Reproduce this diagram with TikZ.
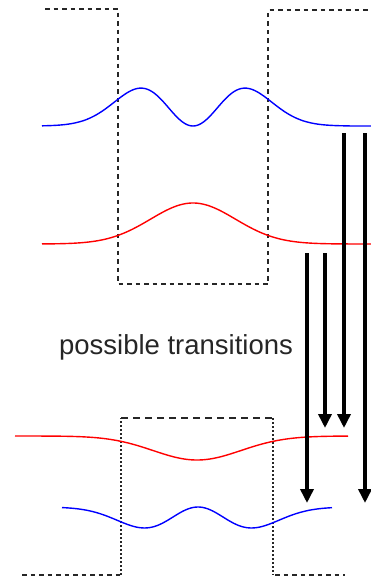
\documentclass[tikz,border=0pt]{standalone}
\usepackage{fontspec}
\newfontfamily\labelfont{Liberation Sans}
\usetikzlibrary{arrows.meta}

\begin{document}
\begin{tikzpicture}[x=1pt, y=-1pt, line join=round,
  well/.style={black!85, line width=1.1pt, dash pattern=on 4.5pt off 4pt},
  wall/.style={black!85, line width=1.1pt, dash pattern=on 2pt off 2pt},
  psi/.style={line width=1.4pt, smooth},
  jump/.style={line width=4pt, -{Triangle[length=14pt,width=13pt]}}]
\useasboundingbox (0,0) rectangle (371,581);
\draw[well] (45,9) -- (118,9) -- (118,284) -- (268,284) -- (268,10) -- (371,10);
\draw[psi, blue] plot[domain=42:371, samples=160]
  (\x, {126 - 103*((\x-193)/52)^2*exp(-((\x-193)/52)^2)});
\draw[psi, red] plot[domain=42:371, samples=160]
  (\x, {244 - 41*exp(-((\x-193)/60)^2)});
\draw[well] (22,575) -- (121,575);
\draw[wall] (121,575) -- (121,418);
\draw[well, dash pattern=on 7pt off 5pt] (121,418) -- (273,418);
\draw[wall] (273,418) -- (273,575);
\draw[well] (275,575) -- (345,575);
\draw[psi, red] plot[domain=15:348, samples=160]
  (\x, {436 + 24*exp(-((\x-197)/62)^2)});
\draw[psi, blue] plot[domain=62:332, samples=160]
  (\x, {507 + 57*((\x-198)/53.5)^2*exp(-((\x-198)/53.5)^2)});
\node[font=\labelfont\fontsize{27.5}{32}\selectfont, text=black!85] (lbl) at (176,347) {possible transitions};
\coordinate (a1) at (307,253); \coordinate (b1) at (307,503);
\coordinate (a2) at (325,253); \coordinate (b2) at (325,428);
\coordinate (a3) at (344,133); \coordinate (b3) at (344,428);
\coordinate (a4) at (365,133); \coordinate (b4) at (365,503);
\draw[jump] (a1) -- (b1);
\draw[jump] (a2) -- (b2);
\draw[jump] (a3) -- (b3);
\draw[jump] (a4) -- (b4);
\end{tikzpicture}
\end{document}
